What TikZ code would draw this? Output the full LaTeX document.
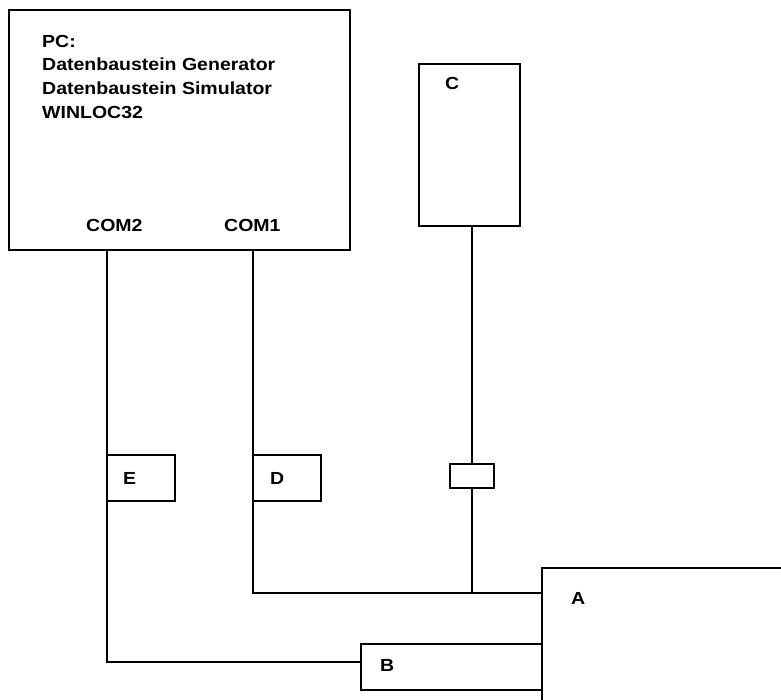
\documentclass[tikz,border=0pt]{standalone}
\usepackage{fontspec}
\setmainfont{Liberation Sans}[FakeStretch=1.115]
\begin{document}
\begin{tikzpicture}[x=1pt,y=-1pt,
  box/.style={draw,line width=2.5pt,inner sep=0pt,outer sep=0pt,anchor=north west},
  lbl/.style={font=\bfseries\fontsize{17.5}{21}\selectfont,anchor=base west,inner sep=0pt},
  wire/.style={line width=2.2pt}]
\useasboundingbox (0,0) rectangle (781,700);
\clip (0,0) rectangle (781,700);
% boxes
\node[box,minimum width=341pt,minimum height=240pt] (pc) at (9,10) {};
\node[box,minimum width=101pt,minimum height=162pt] (c) at (419,64) {};
\node[box,minimum width=68pt,minimum height=46pt] (e) at (107,455) {};
\node[box,minimum width=68pt,minimum height=46pt] (d) at (253,455) {};
\node[box,minimum width=44pt,minimum height=24pt] (conn) at (450,464) {};
\node[box,minimum width=181pt,minimum height=46pt] (b) at (361,644) {};
\node[box,minimum width=300pt,minimum height=200pt] (a) at (542,568) {};
% labels
\node[lbl] (t1) at (42,48) {PC:};
\node[lbl] (t2) at (42,71) {Datenbaustein Generator};
\node[lbl] (t3) at (42,95) {Datenbaustein Simulator};
\node[lbl] (t4) at (42,119) {WINLOC32};
\node[lbl] (lcom2) at (86,232) {COM2};
\node[lbl] (lcom1) at (224,232) {COM1};
\node[lbl] (lc) at (445,90) {C};
\node[lbl] (le) at (123,484) {E};
\node[lbl] (ld) at (270,484) {D};
\node[lbl] (la) at (571,604) {A};
\node[lbl] (lb) at (380,671) {B};
% wires
\coordinate (com2) at (107,250);
\coordinate (com1) at (253,250);
\coordinate (ja) at (542,593);
\coordinate (jb) at (361,662);
\coordinate (jc) at (472,593);
\draw[wire] (com2) |- (jb);
\draw[wire] (com1) |- (ja);
\draw[wire] (c.south -| conn.north) -- (conn.north);
\draw[wire] (conn.south) -- (jc);
\end{tikzpicture}
\end{document}
